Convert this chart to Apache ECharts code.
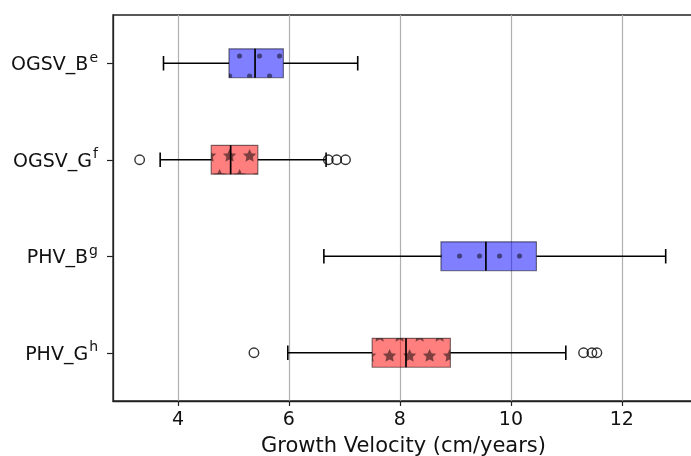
<!DOCTYPE html>
<html><head><meta charset="utf-8">
<script src="https://cdn.jsdelivr.net/npm/echarts@6/dist/echarts.min.js"></script>
<style>html,body{margin:0;padding:0;background:#fff}#c{width:691px;height:456px}</style>
</head><body><div id="c"></div>
<script>
// ---- data ----
const categories = ['OGSV_B', 'OGSV_G', 'PHV_B', 'PHV_G'];
const superscripts = ['e', 'f', 'g', 'h'];
const whiskerLow  = [3.74, 3.68, 6.63, 5.98];
const q1          = [4.92, 4.60, 8.74, 7.50];
const median      = [5.39, 4.95, 9.55, 8.11];
const q3          = [5.90, 5.44, 10.46, 8.91];
const whiskerHigh = [7.24, 6.67, 12.79, 10.99];
const outliers    = [[], [3.31, 6.71, 6.86, 7.02], [], [5.37, 11.31, 11.46, 11.55]];
const xTicks = [4, 6, 8, 10, 12];
const xName = 'Growth Velocity (cm/years)';

// ---- hatch patterns ----
function makeTile(fill, kind) {
  const c = document.createElement('canvas');
  c.width = 20; c.height = 40;
  const g = c.getContext('2d');
  g.fillStyle = fill; g.fillRect(0, 0, 20, 40);
  g.fillStyle = 'rgba(0,0,0,0.5)';
  const centers = [[19.6, 16], [9.6, 36]];
  for (const [cx0, cy0] of centers) {
    for (const dx of [-20, 0, 20]) for (const dy of [-40, 0, 40]) {
      const cx = cx0 + dx, cy = cy0 + dy;
      g.beginPath();
      if (kind === 'dot') {
        g.arc(cx, cy, 2.6, 0, Math.PI * 2);
      } else {
        for (let k = 0; k < 10; k++) {
          const r = k % 2 === 0 ? 7.0 : 3.4;
          const a = -Math.PI / 2 + k * Math.PI / 5;
          const px = cx + r * Math.cos(a), py = cy + r * Math.sin(a);
          k === 0 ? g.moveTo(px, py) : g.lineTo(px, py);
        }
        g.closePath();
      }
      g.fill();
    }
  }
  return c;
}
const blueTile = makeTile('rgba(0,0,255,0.5)', 'dot');
const redTile = makeTile('rgba(255,0,0,0.5)', 'star');

const boxData = categories.map((c, i) => [i, whiskerLow[i], q1[i], median[i], q3[i], whiskerHigh[i]]);
const outlierData = [];
outliers.forEach((arr, i) => arr.forEach(v => outlierData.push([v, i])));

const FONT = 'DejaVu Sans';
const chart = echarts.init(document.getElementById('c'), null, {renderer: 'canvas'});
chart.setOption({
  animation: false,
  backgroundColor: '#fff',
  grid: {left: 113, top: 15, width: 581, height: 386, outerBoundsMode: 'none', containLabel: false,
    show: true, borderColor: '#222', borderWidth: 1.3, backgroundColor: 'transparent'},
  xAxis: {
    type: 'value', min: 2.83, max: 13.3,
    name: xName, nameLocation: 'middle', nameGap: 35,
    nameTextStyle: {fontFamily: FONT, fontSize: 21, color: '#111'},
    axisLine: {show: true, lineStyle: {color: '#222', width: 1.3}},
    axisTick: {show: true, length: 5, customValues: xTicks, lineStyle: {color: '#222', width: 1.2}},
    axisLabel: {customValues: xTicks, fontFamily: FONT, fontSize: 19, color: '#111', margin: 10},
    splitLine: {show: true, lineStyle: {color: '#b0b0b0', width: 1.2}}
  },
  yAxis: {
    type: 'category', data: categories, inverse: true,
    axisLine: {show: true, lineStyle: {color: '#222', width: 1.3}},
    axisTick: {show: true, length: 6, alignWithLabel: true, lineStyle: {color: '#222', width: 1.2}},
    axisLabel: {
      margin: 15, color: '#111',
      formatter: (v) => '{b|' + v + '}{s|' + superscripts[categories.indexOf(v)] + '}',
      rich: {
        b: {fontFamily: FONT, fontSize: 19, color: '#111', padding: [4, 1, 0, 0]},
        s: {fontFamily: FONT, fontSize: 14, color: '#111', padding: [0, 0, 10, 0]}
      }
    },
    splitLine: {show: false}
  },
  series: [
    {
      type: 'custom',
      encode: {x: [1, 2, 3, 4, 5], y: 0},
      data: boxData,
      z: 3,
      renderItem: function (params, api) {
        const i = api.value(0);
        const pLo = api.coord([api.value(1), i]);
        const pQ1 = api.coord([api.value(2), i]);
        const pMed = api.coord([api.value(3), i]);
        const pQ3 = api.coord([api.value(4), i]);
        const pHi = api.coord([api.value(5), i]);
        const band = api.size([0, 1])[1];
        const hb = band * 0.15, hc = band * 0.075;
        const y = pLo[1];
        const isBlue = categories[i].endsWith('B');
        const lineStyle = {stroke: '#000', lineWidth: 1.6};
        return {
          type: 'group',
          children: [
            {type: 'line', shape: {x1: pLo[0], y1: y, x2: pQ1[0], y2: y}, style: lineStyle},
            {type: 'line', shape: {x1: pQ3[0], y1: y, x2: pHi[0], y2: y}, style: lineStyle},
            {type: 'line', shape: {x1: pLo[0], y1: y - hc, x2: pLo[0], y2: y + hc}, style: lineStyle},
            {type: 'line', shape: {x1: pHi[0], y1: y - hc, x2: pHi[0], y2: y + hc}, style: lineStyle},
            {type: 'rect', shape: {x: pQ1[0], y: y - hb, width: pQ3[0] - pQ1[0], height: 2 * hb},
              style: {fill: {image: isBlue ? blueTile : redTile, repeat: 'repeat'}, stroke: 'rgba(0,0,0,0.5)', lineWidth: 1.2}},
            {type: 'line', shape: {x1: pMed[0], y1: y - hb, x2: pMed[0], y2: y + hb}, style: {stroke: '#000', lineWidth: 1.7}}
          ]
        };
      }
    },
    {
      type: 'scatter',
      data: outlierData,
      symbol: 'circle', symbolSize: 9.5,
      z: 4,
      itemStyle: {color: 'rgba(0,0,0,0)', borderColor: '#000', borderWidth: 1.4}
    }
  ]
});
</script>
</body></html>
